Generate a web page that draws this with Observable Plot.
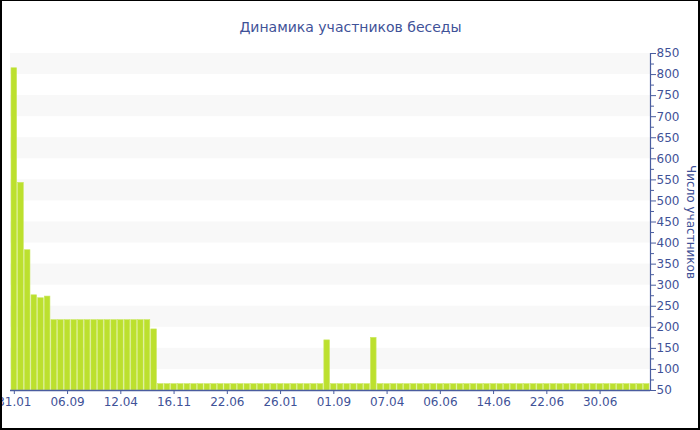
<!DOCTYPE html>
<html>
<head>
<meta charset="utf-8">
<script src="https://cdn.jsdelivr.net/npm/d3@7"></script>
<script src="https://cdn.jsdelivr.net/npm/@observablehq/plot@0.6"></script>
<style>
  html, body { margin: 0; padding: 0; background: #fff; }
  #wrap { position: relative; width: 700px; height: 430px; overflow: hidden; }
  #border { position: absolute; left: 0; top: 0; width: 700px; height: 430px; box-sizing: border-box;
            border: 2px solid #000; border-top-width: 1px; pointer-events: none; }
  svg { display: block; }
</style>
</head>
<body>
<div id="wrap"><div id="border"></div></div>
<script>
const title = "Динамика участников беседы";
const yLabel = "Число участников";
const tickLabels = ["31.01", "06.09", "12.04", "16.11", "22.06", "26.01", "01.09", "07.04", "06.06", "14.06", "22.06", "30.06"];
const members = [
  815, 543, 383, 276, 269, 273,
  217, 217, 217, 217, 217, 217, 217, 217, 217, 217, 217, 217, 217, 217, 217,
  195,
  65, 65, 65, 65, 65, 65, 65, 65, 65, 65, 65, 65, 65, 65, 65, 65, 65, 65, 65, 65, 65, 65, 65, 65, 65,
  169,
  65, 65, 65, 65, 65, 65,
  175,
  65, 65, 65, 65, 65, 65, 65, 65, 65, 65, 65, 65, 65, 65, 65, 65, 65, 65, 65, 65, 65,
  65, 65, 65, 65, 65, 65, 65, 65, 65, 65, 65, 65, 65, 65, 65, 65, 65, 65, 65, 65
];
const bandStarts = [100, 200, 300, 400, 500, 600, 700, 800];

const data = members.map((v, i) => ({i, v}));
const axisColor = "#4a5d9f";
const textColor = "#3f5298";

const chart = Plot.plot({
  width: 700,
  height: 430,
  marginLeft: 10,
  marginRight: 50,
  marginTop: 53,
  marginBottom: 40,
  style: {fontFamily: "DejaVu Sans, Verdana, sans-serif", fontSize: "12px", color: textColor, background: "transparent", overflow: "visible"},
  x: {type: "band", domain: d3.range(members.length), padding: 0.15},
  y: {domain: [50, 850]},
  marks: [
    Plot.rect(bandStarts, {y1: d => d, y2: d => d + 50, fill: "#f8f8f8"}),
    Plot.barY(data, {x: "i", y1: 50, y2: "v", fill: "#bce02e", stroke: "#cbe861", strokeWidth: 0.6}),
    Plot.ruleY([50], {stroke: axisColor, strokeWidth: 1.5}),
    Plot.frame({anchor: "right", stroke: axisColor, strokeWidth: 1.2}),
    Plot.axisY({anchor: "right", ticks: d3.range(50, 851, 50), tickSize: 5, tickPadding: 1, stroke: axisColor, fill: textColor, fontSize: 12, label: null}),
    Plot.axisY({anchor: "right", ticks: d3.range(75, 850, 50), tickSize: 3, text: null, stroke: axisColor, label: null}),
    Plot.axisX({ticks: d3.range(0, members.length, 8), tickFormat: i => tickLabels[i / 8], tickSize: 4, tickPadding: 3, stroke: axisColor, fill: textColor, fontSize: 12, label: null}),
    Plot.text([yLabel], {frameAnchor: "right", textAnchor: "middle", dx: 40, rotate: 90, fill: textColor, fontSize: 12}),
    Plot.text([title], {frameAnchor: "top", dx: 20, dy: -31, fill: textColor, fontSize: 14})
  ]
});
document.getElementById("wrap").prepend(chart);
</script>
</body>
</html>
